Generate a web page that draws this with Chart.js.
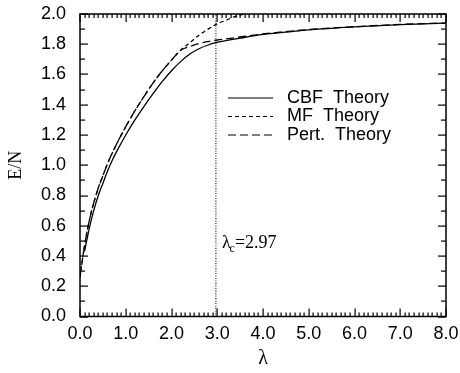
<!DOCTYPE html>
<html>
<head>
<meta charset="utf-8">
<script src="https://cdn.jsdelivr.net/npm/chart.js@4.4.1/dist/chart.umd.min.js"></script>
<style>
html, body { margin: 0; padding: 0; background: #fff; }
#wrap { width: 460px; height: 373px; }
</style>
</head>
<body>
<div id="wrap"><canvas id="chart" width="460" height="373"></canvas></div>
<script>
// Values (E/N vs lambda)
const cbfX = [0.1, 0.2, 0.3, 0.4, 0.5, 0.6, 0.7, 0.8, 1.0, 1.2, 1.4, 1.6, 1.8, 2.0, 2.2, 2.4, 2.6, 2.8, 2.97, 3.5, 4.0, 4.5, 5.0, 6.0, 7.0, 8.0];
const cbfY = [0.43, 0.58, 0.70, 0.80, 0.88, 0.96, 1.03, 1.09, 1.20, 1.30, 1.39, 1.475, 1.555, 1.625, 1.685, 1.735, 1.77, 1.795, 1.81, 1.84, 1.865, 1.88, 1.895, 1.915, 1.93, 1.94];

const mfX = [0.0, 0.05, 0.1, 0.2, 0.3, 0.4, 0.5, 0.6, 0.8, 1.0, 1.2, 1.4, 1.6, 1.8, 2.0, 2.2, 2.4, 2.6, 2.8, 3.0, 3.2, 3.4, 3.6];
const mfY = [0.26, 0.37, 0.47, 0.63, 0.75, 0.85, 0.93, 1.01, 1.14, 1.255, 1.36, 1.455, 1.545, 1.625, 1.695, 1.76, 1.81, 1.86, 1.90, 1.935, 1.96, 1.985, 2.0];

const pertX = [0.0, 0.05, 0.1, 0.2, 0.3, 0.4, 0.5, 0.6, 0.8, 1.0, 1.2, 1.4, 1.6, 1.8, 2.0, 2.2, 2.4, 2.6, 2.8, 3.0, 3.2, 3.5, 4.0, 5.0, 6.0, 7.0, 8.0];
const pertY = [0.26, 0.37, 0.47, 0.63, 0.75, 0.85, 0.93, 1.01, 1.14, 1.255, 1.36, 1.455, 1.545, 1.625, 1.695, 1.76, 1.785, 1.805, 1.818, 1.828, 1.836, 1.848, 1.868, 1.897, 1.916, 1.931, 1.941];

const lambdaC = 2.97;
const seriesNames = ['CBF  Theory', 'MF  Theory', 'Pert.  Theory'];

const xTickValues = [0, 1, 2, 3, 4, 5, 6, 7, 8];
const xTickLabels = ['0.0', '1.0', '2.0', '3.0', '4.0', '5.0', '6.0', '7.0', '8.0'];
const yTickValues = [0, 0.2, 0.4, 0.6, 0.8, 1.0, 1.2, 1.4, 1.6, 1.8, 2.0];
const yTickLabels = ['0.0', '0.2', '0.4', '0.6', '0.8', '1.0', '1.2', '1.4', '1.6', '1.8', '2.0'];

const pts = (xs, ys) => xs.map((v, i) => ({ x: v, y: ys[i] }));

// box + inward major/minor ticks on all four sides
const frameTicks = {
    id: 'frameTicks',
    afterDraw(chart) {
        const c = chart.ctx;
        const a = chart.chartArea;
        const sx = chart.scales.x, sy = chart.scales.y;
        c.save();
        c.fillStyle = '#000';
        for (let i = 0; i <= 80; i++) {
            const px = Math.round(sx.getPixelForValue(i / 10));
            const len = i % 10 === 0 ? 8 : 4;
            c.fillRect(px - 0.5, a.bottom - len, 1.2, len);
            c.fillRect(px - 0.5, a.top, 1.2, len);
        }
        for (let i = 0; i <= 20; i++) {
            const py = Math.round(sy.getPixelForValue(i / 10));
            const len = i % 2 === 0 ? 8 : 5;
            c.fillRect(a.left, py - 0.5, len, 1.2);
            c.fillRect(a.right - len, py - 0.5, len, 1.2);
        }
        c.setLineDash([]);
        c.strokeStyle = '#000';
        c.lineWidth = 1.5;
        c.strokeRect(a.left, a.top, a.right - a.left, a.bottom - a.top);
        c.restore();
    }
};

// legend with line samples + lambda_c label
const notes = {
    id: 'notes',
    afterDraw(chart) {
        const c = chart.ctx;
        const a = chart.chartArea;
        const sx = chart.scales.x, sy = chart.scales.y;
        c.save();
        c.fillStyle = '#000';
        c.strokeStyle = '#000';
        c.font = '18px "Liberation Sans", Arial, sans-serif';
        c.textBaseline = 'middle';
        const x0 = a.left + 148, x1 = a.left + 193, tx = a.left + 207;
        seriesNames.forEach((name, i) => {
            const ds = chart.data.datasets[i];
            const yy = a.top + 84 + i * 18.5;
            c.setLineDash(ds.borderDash || []);
            c.lineWidth = 1.2;
            c.beginPath();
            c.moveTo(x0, yy); c.lineTo(x1, yy);
            c.stroke();
            c.fillText(name, tx, yy);
        });
        c.setLineDash([]);
        const lx = sx.getPixelForValue(lambdaC) + 6;
        const ly = sy.getPixelForValue(0.45);
        c.textBaseline = 'alphabetic';
        c.font = '18px "Liberation Serif", "Times New Roman", serif';
        c.fillText('\u03bb', lx, ly);
        let w = c.measureText('\u03bb').width;
        c.font = '12px "Liberation Serif", "Times New Roman", serif';
        c.fillText('c', lx + w - 1, ly + 4);
        w += c.measureText('c').width - 1;
        c.font = '18px "Liberation Serif", "Times New Roman", serif';
        c.fillText('=' + lambdaC.toFixed(2), lx + w, ly);
        c.restore();
    }
};

const ctx = document.getElementById('chart').getContext('2d');
new Chart(ctx, {
    type: 'line',
    data: {
        datasets: [
            { label: seriesNames[0], data: pts(cbfX, cbfY), borderColor: '#000', borderWidth: 1.3, borderDash: [] },
            { label: seriesNames[1], data: pts(mfX, mfY), borderColor: '#000', borderWidth: 1.3, borderDash: [4, 3] },
            { label: seriesNames[2], data: pts(pertX, pertY), borderColor: '#000', borderWidth: 1.3, borderDash: [8, 4] },
            { label: 'lambda_c', data: [{ x: lambdaC, y: 0 }, { x: lambdaC, y: 2 }], borderColor: '#333', borderWidth: 1.3, borderDash: [1, 1.5] }
        ]
    },
    options: {
        responsive: false,
        animation: false,
        devicePixelRatio: 1,
        layout: { padding: { top: 14, right: 14, left: 0, bottom: 0 } },
        elements: {
            point: { radius: 0 },
            line: { cubicInterpolationMode: 'monotone', fill: false }
        },
        plugins: { legend: { display: false }, tooltip: { enabled: false } },
        scales: {
            x: {
                type: 'linear', min: 0, max: 8,
                grid: { display: false, drawTicks: false },
                border: { display: false },
                afterBuildTicks: s => { s.ticks = xTickValues.map(v => ({ value: v })); },
                afterFit: s => { s.height = 56.5; s.paddingLeft = 0; s.paddingRight = 0; },
                ticks: {
                    color: '#000', padding: 7, maxRotation: 0, autoSkip: false,
                    font: { family: '"Liberation Sans", Arial, sans-serif', size: 18 },
                    callback: (v) => xTickLabels[xTickValues.indexOf(v)]
                },
                title: {
                    display: true, text: '\u03bb', color: '#000',
                    font: { family: '"Liberation Serif", "Times New Roman", serif', size: 20 },
                    padding: { top: 0, bottom: 2 }
                }
            },
            y: {
                type: 'linear', min: 0, max: 2,
                grid: { display: false, drawTicks: false },
                border: { display: false },
                afterBuildTicks: s => { s.ticks = yTickValues.map(v => ({ value: v })); },
                afterFit: s => { s.width = 80; s.paddingTop = 0; s.paddingBottom = 0; },
                ticks: {
                    color: '#000', padding: 14, autoSkip: false,
                    font: { family: '"Liberation Sans", Arial, sans-serif', size: 18 },
                    callback: (v) => yTickLabels[yTickValues.findIndex(t => Math.abs(t - v) < 1e-9)]
                },
                title: {
                    display: true, text: 'E/N', color: '#000',
                    font: { family: '"Liberation Serif", "Times New Roman", serif', size: 18 },
                    padding: { top: 5, bottom: 0 }
                }
            }
        }
    },
    plugins: [frameTicks, notes]
});
</script>
</body>
</html>
